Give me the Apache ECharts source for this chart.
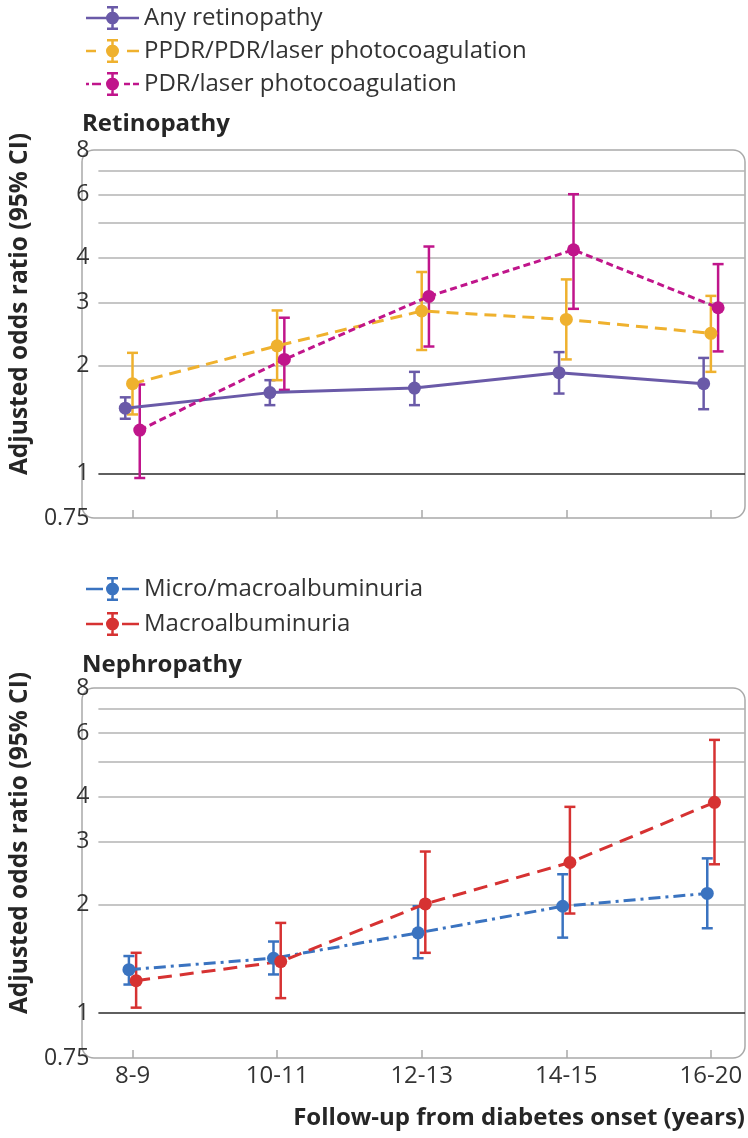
<!DOCTYPE html>
<html>
<head>
<meta charset="utf-8">
<script src="https://cdn.jsdelivr.net/npm/echarts@6/dist/echarts.min.js"></script>
<style>
html,body{margin:0;padding:0;background:#fff;}
#chart{width:748px;height:1138px;}
</style>
</head>
<body>
<div id="chart"></div>
<script>
// ---------- data ----------
var categories = ['8-9', '10-11', '12-13', '14-15', '16-20'];
var yTickLabels = [0.75, 1, 2, 3, 4, 6, 8];
var gridValues = [2, 3, 4, 5, 6, 7];

var anyRet   = [1.52, 1.68, 1.73, 1.91, 1.78];
var anyRetLo = [1.42, 1.55, 1.55, 1.67, 1.51];
var anyRetHi = [1.63, 1.82, 1.92, 2.18, 2.10];

var ppdr   = [1.78, 2.27, 2.84, 2.69, 2.46];
var ppdrLo = [1.46, 1.82, 2.21, 2.08, 1.92];
var ppdrHi = [2.17, 2.85, 3.65, 3.48, 3.13];

var pdr   = [1.32, 2.08, 3.12, 4.21, 2.90];
var pdrLo = [0.97, 1.71, 2.26, 2.88, 2.19];
var pdrHi = [1.77, 2.72, 4.30, 6.02, 3.84];

var micro   = [1.32, 1.42, 1.67, 1.98, 2.15];
var microLo = [1.20, 1.28, 1.42, 1.62, 1.72];
var microHi = [1.44, 1.58, 1.98, 2.43, 2.69];

var macro   = [1.23, 1.39, 2.01, 2.62, 3.85];
var macroLo = [1.035, 1.10, 1.47, 1.89, 2.59];
var macroHi = [1.47, 1.78, 2.81, 3.74, 5.74];

// ---------- style / layout ----------
var FONT = "'Open Sans', 'Noto Sans', sans-serif";
var TXT = '#333333';
var BOLD = '#262626';
var GRID1 = {left: 82, top: 150, width: 663, height: 368};
var GRID2 = {left: 82, top: 688, width: 663, height: 370};

var BAR = 'M25.25 2 H27.75 V22 H25.25 Z M21 0 H32 V2.5 H21 Z M21 21.5 H32 V24 H21 Z M20 12 A6.5 6.5 0 1 1 33 12 A6.5 6.5 0 1 1 20 12 Z ';
function seg(a, b) { return 'M' + a + ' 10.75 H' + b + ' V13.25 H' + a + ' Z '; }
var icons = {
  solid:   'path://' + seg(0, 53) + BAR,
  dashed:  'path://' + seg(0, 10) + seg(41, 53) + BAR,
  dotted:  'path://' + seg(0, 3) + seg(6, 15) + seg(38, 44) + seg(47, 53) + BAR,
  dashdot: 'path://' + seg(0, 17) + seg(36, 53) + BAR,
  longdash:'path://' + seg(0, 17) + seg(36, 53) + BAR
};

var seriesDefs = [
  {name: 'Any retinopathy', v: anyRet, lo: anyRetLo, hi: anyRetHi, color: '#6a5aa8', dash: 'solid', dodge: -0.05, g: 0, icon: icons.solid},
  {name: 'PPDR/PDR/laser photocoagulation', v: ppdr, lo: ppdrLo, hi: ppdrHi, color: '#efb12e', dash: [12, 7], dodge: 0, g: 0, icon: icons.dashed},
  {name: 'PDR/laser photocoagulation', v: pdr, lo: pdrLo, hi: pdrHi, color: '#c0158b', dash: [7, 4], dodge: 0.05, g: 0, icon: icons.dotted},
  {name: 'Micro/macroalbuminuria', v: micro, lo: microLo, hi: microHi, color: '#3a73c0', dash: [12, 5, 3, 5], dodge: -0.025, g: 1, icon: icons.dashdot},
  {name: 'Macroalbuminuria', v: macro, lo: macroLo, hi: macroHi, color: '#d63232', dash: [14, 8], dodge: 0.025, g: 1, icon: icons.longdash}
];

function errRender(color) {
  return function (params, api) {
    var x = api.value(0);
    var top = api.coord([x, api.value(2)]);
    var bot = api.coord([x, api.value(1)]);
    var cw = 5.5;
    var st = {stroke: color, lineWidth: 2.5, fill: 'none'};
    return {
      type: 'group',
      children: [
        {type: 'line', shape: {x1: top[0], y1: top[1], x2: bot[0], y2: bot[1]}, style: st},
        {type: 'line', shape: {x1: top[0] - cw, y1: top[1], x2: top[0] + cw, y2: top[1]}, style: st},
        {type: 'line', shape: {x1: bot[0] - cw, y1: bot[1], x2: bot[0] + cw, y2: bot[1]}, style: st}
      ]
    };
  };
}

var series = [];
// gridline holders
[0, 1].forEach(function (g) {
  series.push({
    type: 'line', name: '_grid' + g, xAxisIndex: g, yAxisIndex: g, data: [], z: 0, silent: true,
    markLine: {
      silent: true, z: 0, symbol: ['none', 'none'], label: {show: false}, animation: false,
      lineStyle: {color: '#b3b3b3', width: 1.5, type: 'solid'},
      emphasis: {disabled: true},
      data: gridValues.map(function (v) { return {yAxis: v}; }).concat([
        {yAxis: 1, lineStyle: {color: '#2a2a2a', width: 1.5, type: 'solid'}}
      ])
    }
  });
});

seriesDefs.forEach(function (s) {
  series.push({
    type: 'custom', name: s.name + ' CI', xAxisIndex: s.g, yAxisIndex: s.g, z: 2, silent: true,
    renderItem: errRender(s.color),
    encode: {x: 0, y: [1, 2]},
    data: s.v.map(function (v, i) { return [i + s.dodge, s.lo[i], s.hi[i]]; })
  });
});
seriesDefs.forEach(function (s) {
  series.push({
    type: 'line', name: s.name, xAxisIndex: s.g, yAxisIndex: s.g, z: 3, silent: true,
    symbol: 'circle', symbolSize: 13, showSymbol: true,
    itemStyle: {color: s.color},
    lineStyle: {color: s.color, width: 3, type: s.dash},
    data: s.v.map(function (v, i) { return [i + s.dodge, v]; })
  });
});

function xAxis(g, showLabels) {
  return {
    type: 'value', gridIndex: g, min: -0.236, max: 4.236,
    axisLine: {show: false},
    splitLine: {show: false},
    axisTick: {show: true, inside: true, length: 8, customValues: [0, 1, 2, 3, 4], lineStyle: {color: '#a9a9a9', width: 1.5}},
    axisLabel: {
      show: showLabels, customValues: [0, 1, 2, 3, 4], margin: 6,
      fontFamily: FONT, fontSize: 24, color: TXT,
      formatter: function (v) { return categories[Math.round(v)]; }
    }
  };
}
function yAxis(g) {
  return {
    type: 'log', gridIndex: g, min: 0.75, max: 8, logBase: 2,
    axisLine: {show: false}, axisTick: {show: false}, splitLine: {show: false},
    axisLabel: {customValues: yTickLabels, margin: 9, fontFamily: FONT, fontSize: 23, color: TXT,
      formatter: function (v) { return String(+v.toFixed(2)); }},
    name: 'Adjusted odds ratio (95% CI)', nameLocation: 'middle', nameGap: 60, nameRotate: 90,
    nameTextStyle: {fontFamily: FONT, fontSize: 24.5, fontWeight: 'bold', color: BOLD, padding: [0, 0, 0, 60]}
  };
}

function legend(defs, top, gap) {
  return {
    top: top, left: 81, orient: 'vertical', itemWidth: 53, itemHeight: 24, itemGap: gap,
    selectedMode: false,
    textStyle: {fontFamily: FONT, fontSize: 24, color: TXT, lineHeight: 24},
    data: defs.map(function (s) { return {name: s.name, icon: s.icon, itemStyle: {color: s.color}}; })
  };
}

var titleStyle = {fontFamily: FONT, fontSize: 24, fontWeight: 'bold', color: BOLD, lineHeight: 26};
var option = {
  animation: false,
  backgroundColor: '#fff',
  title: [
    {text: 'Retinopathy', left: 82, top: 111, padding: 0, textStyle: titleStyle},
    {text: 'Nephropathy', left: 82, top: 652, padding: 0, textStyle: titleStyle},
    {text: 'Follow-up from diabetes onset (years)', right: 3, top: 1105, padding: 0, textStyle: titleStyle}
  ],
  legend: [
    legend(seriesDefs.slice(0, 3), 1, 9),
    legend(seriesDefs.slice(3), 572, 11)
  ],
  grid: [
    {left: GRID1.left, top: GRID1.top, width: GRID1.width, height: GRID1.height, containLabel: false},
    {left: GRID2.left, top: GRID2.top, width: GRID2.width, height: GRID2.height, containLabel: false}
  ],
  xAxis: [xAxis(0, false), xAxis(1, true)],
  yAxis: [yAxis(0), yAxis(1)],
  graphic: [GRID1, GRID2].map(function (g) {
    return {type: 'rect', z: -1, silent: true,
      shape: {x: g.left, y: g.top, width: g.width, height: g.height, r: 12},
      style: {fill: 'none', stroke: '#a9a9a9', lineWidth: 1.5}};
  }),
  series: series
};

var chart = echarts.init(document.getElementById('chart'), null, {renderer: 'canvas'});
chart.setOption(option);
</script>
</body>
</html>
